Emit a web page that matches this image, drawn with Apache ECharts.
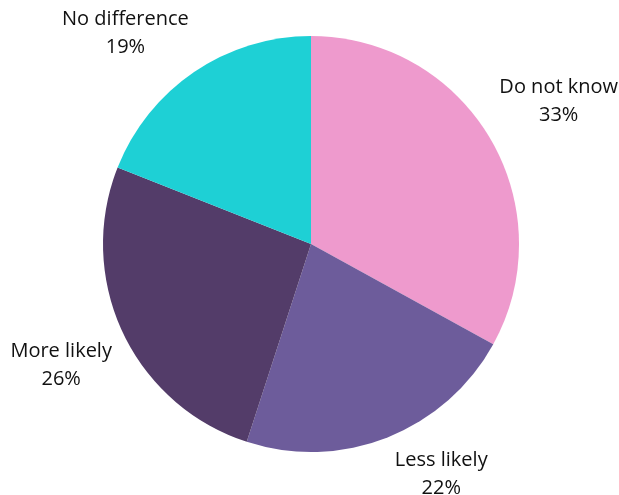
<!DOCTYPE html>
<html>
<head>
<meta charset="utf-8">
<script src="https://cdn.jsdelivr.net/npm/echarts@6/dist/echarts.min.js"></script>
<style>html,body{margin:0;padding:0;background:#fff}#c{width:619px;height:495px}</style>
</head>
<body>
<div id="c"></div>
<script>
const categories = ['Do not know', 'Less likely', 'More likely', 'No difference'];
const values = [33, 22, 26, 19];
const colors = ['#EE9ACD', '#6D5C9B', '#533C69', '#1ED0D5'];
// small label nudges (pixels) to mimic the reference label placement
const labelNudge = [[11, -3], [29, -25], [-1, 4], [-31, 17]];

const chart = echarts.init(document.getElementById('c'), null, {renderer: 'canvas'});
const center = [311, 244];
chart.setOption({
  animation: false,
  backgroundColor: '#ffffff',
  series: [
    {
      type: 'pie',
      center: center,
      radius: [0, 208],
      startAngle: 90,
      clockwise: true,
      silent: true,
      avoidLabelOverlap: false,
      label: {show: false},
      labelLine: {show: false},
      itemStyle: {borderWidth: 0},
      data: categories.map((n, i) => ({name: n, value: values[i], itemStyle: {color: colors[i]}}))
    },
    {
      type: 'pie',
      center: center,
      radius: [252, 292],
      startAngle: 90,
      clockwise: true,
      silent: true,
      avoidLabelOverlap: false,
      itemStyle: {color: 'rgba(0,0,0,0)', borderWidth: 0},
      labelLine: {show: false},
      label: {
        show: true,
        position: 'inside',
        formatter: '{b}\n{c}%',
        fontFamily: '"Open Sans", sans-serif',
        fontSize: 20,
        lineHeight: 28,
        color: '#111111'
      },
      data: categories.map((n, i) => ({name: n, value: values[i], label: {offset: labelNudge[i]}}))
    }
  ]
});
</script>
</body>
</html>
